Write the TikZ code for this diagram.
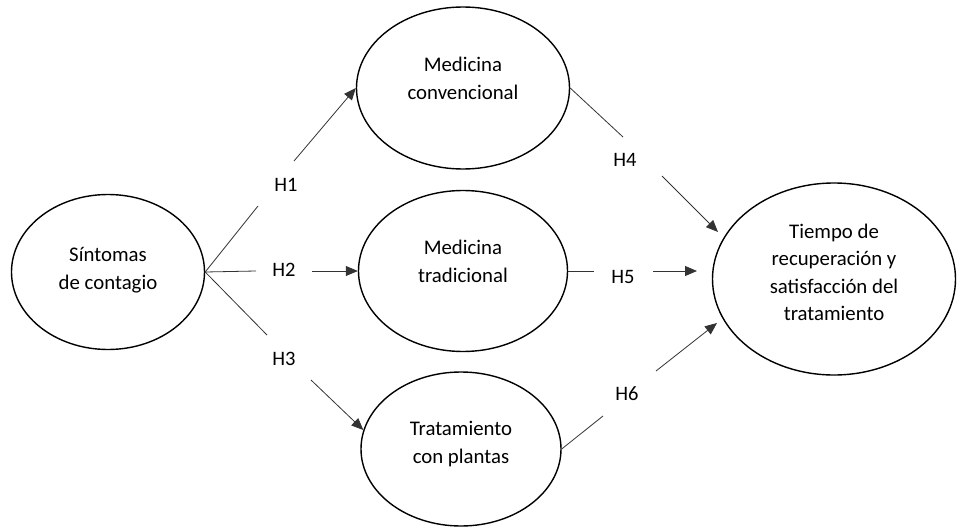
\documentclass[tikz,border=0pt]{standalone}
\usepackage{fontspec}
\setmainfont{Carlito}
\usetikzlibrary{arrows.meta,shapes.geometric}
\newcommand\ovtext[2]{\raisebox{#1}[\height][\depth]{\begin{tabular}{@{}c@{}}#2\end{tabular}}}
\begin{document}
\begin{tikzpicture}[x=1pt,y=-1pt,
  oval/.style={ellipse, draw, line width=1.4pt, inner sep=0pt,
    font=\fontsize{20.8}{27.5}\selectfont},
  lab/.style={font=\fontsize{20.5}{24}\selectfont, inner sep=0pt},
  conn/.style={line width=0.8pt, draw=black!80},
  arr/.style={conn, -{Triangle[length=12pt,width=10pt]}}]
\useasboundingbox (0,0) rectangle (959,527);
% constructs
\node[oval, minimum width=193pt, minimum height=155pt] (s) at (108,272) {\ovtext{2pt}{Síntomas\\de contagio}};
\node[oval, minimum width=213pt, minimum height=162pt] (mc) at (463,88) {\ovtext{8pt}{Medicina\\convencional}};
\node[oval, minimum width=209pt, minimum height=161pt] (mt) at (463,271) {\ovtext{8pt}{Medicina\\tradicional}};
\node[oval, minimum width=200pt, minimum height=154pt] (tp) at (461,449) {\ovtext{5pt}{Tratamiento\\con plantas}};
\node[oval, minimum width=243pt, minimum height=192pt] (tr) at (834,279) {\ovtext{5pt}{Tiempo de\\recuperación y\\satisfacción del\\tratamiento}};
% hypothesis labels
\node[lab] (h1) at (286,185) {H1};
\node[lab] (h2) at (284,270) {H2};
\node[lab] (h3) at (284,359) {H3};
\node[lab] (h4) at (625,160) {H4};
\node[lab] (h5) at (623,277) {H5};
\node[lab] (h6) at (627,394) {H6};
% segment ends
\coordinate (a1) at (258,206); \coordinate (b1) at (294,161);
\coordinate (a2) at (256,271); \coordinate (b2) at (312,271);
\coordinate (a3) at (267,335); \coordinate (b3) at (311,380);
\coordinate (a4) at (623,137); \coordinate (b4) at (662,176); \coordinate (e4) at (718,232);
\coordinate (a5) at (594,271); \coordinate (b5) at (653,271); \coordinate (e5) at (697,271);
\coordinate (a6) at (603,416); \coordinate (b6) at (656,371); \coordinate (e6) at (717,323);
% connectors
\draw[conn] (s.east) -- (a1);
\draw[arr] (b1) -- (mc.west);
\draw[conn] (s.east) -- (a2);
\draw[arr] (b2) -- (mt.west);
\draw[conn] (s.east) -- (a3);
\draw[arr] (b3) -- (tp.169);
\draw[conn] (mc.east) -- (a4);
\draw[arr] (b4) -- (e4);
\draw[conn] (mt.east) -- (a5);
\draw[arr] (b5) -- (e5);
\draw[conn] (tp.east) -- (a6);
\draw[arr] (b6) -- (e6);
\end{tikzpicture}
\end{document}
